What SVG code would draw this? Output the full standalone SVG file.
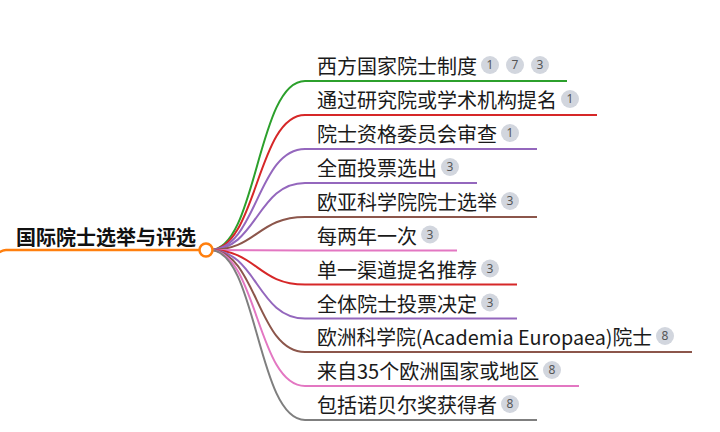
<svg xmlns="http://www.w3.org/2000/svg" width="720" height="432" viewBox="0 0 720 432">
<style>
  .t { font-family: "Noto Sans CJK SC", "Noto Sans", sans-serif; font-size: 20px; fill: #1a1a1a; }
  .root { font-family: "Noto Sans CJK SC", "Noto Sans", sans-serif; font-size: 20px; font-weight: bold; fill: #111; }
  .b { fill: #d2d6de; }
  .bt { font-family: "Noto Sans", "DejaVu Sans", sans-serif; font-size: 12px; fill: #555; text-anchor: middle; }
  .l { fill: none; stroke-width: 2; }
  .green { stroke: #2ca02c; } .red { stroke: #d62728; } .purple { stroke: #9467bd; }
  .brown { stroke: #8c564b; } .pink { stroke: #e377c2; } .gray { stroke: #7f7f7f; }
</style>
<rect width="720" height="432" fill="#ffffff"/>
<g id="connectors">
  <path class="l green" d="M210,250 C257,250 257,81 305,81 H567"/>
  <path class="l red" d="M210,250 C257,250 257,115 305,115 H597"/>
  <path class="l purple" d="M210,250 C257,250 257,149 305,149 H537"/>
  <path class="l purple" d="M210,250 C257,250 257,183 305,183 H477"/>
  <path class="l brown" d="M210,250 C257,250 257,217 305,217 H537" stroke-width="2.5"/>
  <path class="l pink" d="M210,250 C257,250 257,250.5 305,250.5 H457"/>
  <path class="l red" d="M210,250 C257,250 257,284.5 305,284.5 H517"/>
  <path class="l purple" d="M210,250 C257,250 257,318.5 305,318.5 H517"/>
  <path class="l brown" d="M210,250 C257,250 257,352 305,352 H692"/>
  <path class="l pink" d="M210,250 C257,250 257,386 305,386 H579"/>
  <path class="l gray" d="M210,250 C257,250 257,420 305,420 H537"/>
</g>
<g id="root">
  <path d="M-12,258 C-4,258 -2,250 6,250 H199.5" fill="none" stroke="#ff7f0e" stroke-width="2.5"/>
  <circle cx="206" cy="250" r="6.5" fill="#ffffff" stroke="#ff7f0e" stroke-width="2.5"/>
  <text class="root" x="16" y="245">国际院士选举与评选</text>
</g>
<g id="n1">
  <text class="t" x="317" y="74">西方国家院士制度</text>
  <circle class="b" cx="490" cy="65" r="9"/><text class="bt" x="490" y="69">1</text>
  <circle class="b" cx="515" cy="65" r="9"/><text class="bt" x="515" y="69">7</text>
  <circle class="b" cx="540" cy="65" r="9"/><text class="bt" x="540" y="69">3</text>
</g>
<g id="n2">
  <text class="t" x="317" y="108">通过研究院或学术机构提名</text>
  <circle class="b" cx="570" cy="99" r="9"/><text class="bt" x="570" y="103">1</text>
</g>
<g id="n3">
  <text class="t" x="317" y="142">院士资格委员会审查</text>
  <circle class="b" cx="510" cy="133" r="9"/><text class="bt" x="510" y="137">1</text>
</g>
<g id="n4">
  <text class="t" x="317" y="176">全面投票选出</text>
  <circle class="b" cx="450" cy="167" r="9"/><text class="bt" x="450" y="171">3</text>
</g>
<g id="n5">
  <text class="t" x="317" y="210">欧亚科学院院士选举</text>
  <circle class="b" cx="510" cy="201" r="9"/><text class="bt" x="510" y="205">3</text>
</g>
<g id="n6">
  <text class="t" x="317" y="243.5">每两年一次</text>
  <circle class="b" cx="430" cy="234.5" r="9"/><text class="bt" x="430" y="238.5">3</text>
</g>
<g id="n7">
  <text class="t" x="317" y="277.5">单一渠道提名推荐</text>
  <circle class="b" cx="490" cy="268.5" r="9"/><text class="bt" x="490" y="272.5">3</text>
</g>
<g id="n8">
  <text class="t" x="317" y="311.5">全体院士投票决定</text>
  <circle class="b" cx="490" cy="302.5" r="9"/><text class="bt" x="490" y="306.5">3</text>
</g>
<g id="n9">
  <text class="t" x="317" y="345" textLength="335" lengthAdjust="spacingAndGlyphs">欧洲科学院(Academia Europaea)院士</text>
  <circle class="b" cx="665" cy="336" r="9"/><text class="bt" x="665" y="340">8</text>
</g>
<g id="n10">
  <text class="t" x="317" y="379">来自35个欧洲国家或地区</text>
  <circle class="b" cx="552" cy="370" r="9"/><text class="bt" x="552" y="374">8</text>
</g>
<g id="n11">
  <text class="t" x="317" y="413">包括诺贝尔奖获得者</text>
  <circle class="b" cx="510" cy="404" r="9"/><text class="bt" x="510" y="408">8</text>
</g>
</svg>
